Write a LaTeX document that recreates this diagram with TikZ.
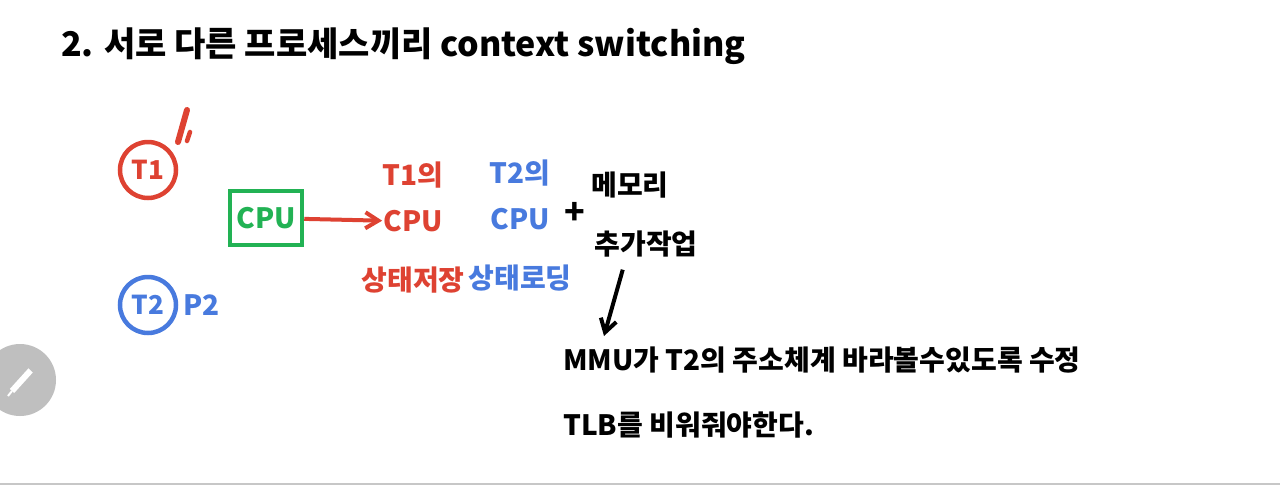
\documentclass[tikz,border=0pt]{standalone}
\usepackage{fontspec}
\setmainfont{Noto Sans CJK KR}
\usepackage{xcolor}
\usetikzlibrary{arrows.meta, positioning}

\definecolor{penred}{RGB}{222,66,50}
\definecolor{penblue}{RGB}{72,122,222}
\definecolor{pengreen}{RGB}{34,178,84}

\begin{document}
\begin{tikzpicture}[x=1pt, y=-1pt,
    node distance=20pt and 20pt,
    txt/.style={inner sep=1pt, font=\fontsize{28}{32}\selectfont\bfseries},
    thread/.style={circle, line width=4.5pt, minimum size=56pt, inner sep=0pt,
                   font=\fontsize{26}{30}\selectfont\bfseries},
    arr/.style={-{Straight Barb[length=13pt, width=16pt]}, line width=4pt},
  ]
  \useasboundingbox (0,0) rectangle (1280,485);
  \fill[white] (0,0) rectangle (1280,485);

  % 제목
  \node[txt, font=\fontsize{34}{40}\selectfont\bfseries, anchor=west] (title) at (60,46)
    {2. 서로 다른 프로세스끼리 context switching};

  % 스레드
  \node[thread, draw=penred, text=penred] (t1) at (148,170) {T1};
  \node[thread, draw=penblue, text=penblue] (t2) at (148,305) {T2};
  \node[txt, text=penblue, right=4pt of t2] (p2) {P2};
  \draw[penred, line width=6pt, line cap=round] (178,142) -- (187,110);
  \draw[penred, line width=4.5pt, line cap=round] (187,141) -- (190,132);

  % CPU
  \node[txt, draw=pengreen, text=pengreen, line width=4.5pt,
        minimum width=72pt, minimum height=54pt] (cpu) at (266,218) {CPU};

  % 상태 저장 / 로딩
  \node[txt, text=penred] (save1) at (413,175) {T1의};
  \node[txt, text=penred, below=20pt of save1] (save2) {CPU};
  \node[txt, text=penred, below=32pt of save2] (save3) {상태저장};
  \node[txt, text=penblue] (load1) at (520,173) {T2의};
  \node[txt, text=penblue, below=20pt of load1] (load2) {CPU};
  \node[txt, text=penblue, below=32pt of load2] (load3) {상태로딩};

  \node[txt, font=\fontsize{34}{36}\selectfont\bfseries] (plus) at (575,213) {+};
  \node[txt] (mem1) at (630,185) {메모리};
  \node[txt, below=30pt of mem1, xshift=16pt] (mem2) {추가작업};

  % MMU, TLB
  \node[txt, anchor=west] (mmu) at (562,360) {MMU가 T2의 주소체계 바라볼수있도록 수정};
  \node[txt, anchor=west] (tlb) at (562,425) {TLB를 비워줘야한다.};

  \draw[arr, penred] (cpu) -- (save2);
  \coordinate (down) at (604,336);
  \draw[arr, shorten <=12pt] ([xshift=-20pt]mem2.south) -- (down);

  % 편집 버튼
  \fill[black!25] (20,380) circle (36);
  \draw[white, line width=6pt] (12,391) -- (31,370);
  \draw[white, line width=2pt] (8,396) -- (12,391);
  \draw[black!25, line width=1pt] (28,367) -- (34,373);

  \draw[black!22, line width=1.5pt] (0,484) -- (1280,484);
\end{tikzpicture}
\end{document}
